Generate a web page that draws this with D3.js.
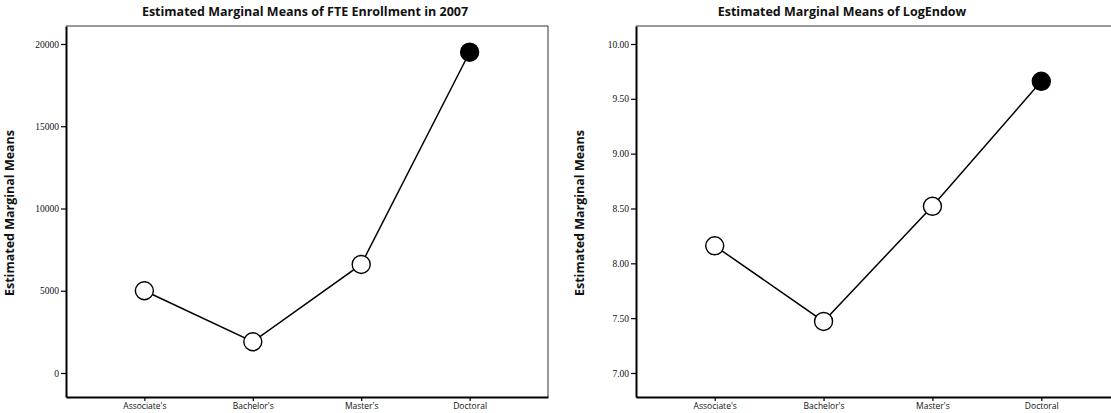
<!DOCTYPE html>
<html>
<head>
<meta charset="utf-8">
<script src="https://cdn.jsdelivr.net/npm/d3@7"></script>
<style>
  body { margin: 0; background: #fff; }
  text { font-family: "Open Sans", sans-serif; fill: #111; }
</style>
</head>
<body>
<svg id="chart" width="1111" height="413"></svg>
<script>
// categories on the x axis (same for both plots)
const degrees = ["Associate's", "Bachelor's", "Master's", "Doctoral"];

// left plot: FTE enrollment
const fteMeans = [5000, 1900, 6600, 19500];
const fteTicks = [0, 5000, 10000, 15000, 20000];

// right plot: LogEndow
const endowMeans = [8.16, 7.47, 8.52, 9.66];
const endowTicks = [7.00, 7.50, 8.00, 8.50, 9.00, 9.50, 10.00];

const svg = d3.select("#chart");

function panel(opt) {
  const x = d3.scalePoint()
      .domain(degrees)
      .range([opt.left, opt.right])
      .padding(0.723);
  const y = d3.scaleLinear()
      .domain(opt.domain)
      .range([397, 26]);

  const g = svg.append("g");

  // frame: thin top / right border
  g.append("path")
      .attr("d", `M${opt.left},26H${opt.right}V397`)
      .attr("fill", "none")
      .attr("stroke", "#333")
      .attr("stroke-width", 1);

  // left axis
  const ya = g.append("g")
      .attr("transform", `translate(${opt.left},0)`)
      .call(d3.axisLeft(y).tickValues(opt.ticks).tickSize(5).tickPadding(2).tickFormat(opt.fmt).tickSizeOuter(0));
  ya.select(".domain").attr("stroke-width", 2).attr("stroke", "#000");
  ya.selectAll(".tick line").attr("stroke-width", 1.2);
  ya.selectAll(".tick text")
      .style("font-family", "'Liberation Serif', serif")
      .attr("font-size", 9.5)
      .attr("fill", "#111");

  // bottom axis
  const xa = g.append("g")
      .attr("transform", "translate(0,397)")
      .call(d3.axisBottom(x).tickSize(4).tickPadding(2).tickSizeOuter(0));
  xa.select(".domain").attr("stroke-width", 2).attr("stroke", "#000");
  xa.selectAll(".tick line").attr("stroke-width", 1.2);
  xa.selectAll(".tick text")
      .attr("font-size", 8.5)
      .attr("fill", "#111");

  // title
  g.append("text")
      .attr("x", opt.titleX)
      .attr("y", 16)
      .attr("text-anchor", "middle")
      .attr("font-size", 12.5)
      .attr("font-weight", 700)
      .text(opt.title);

  // y axis label
  g.append("text")
      .attr("transform", `translate(${opt.labelX},213) rotate(-90)`)
      .attr("text-anchor", "middle")
      .attr("font-size", 12.5)
      .attr("font-weight", 700)
      .text("Estimated Marginal Means");

  const pts = degrees.map((d, i) => ({ cat: d, v: opt.values[i] }));

  g.append("path")
      .datum(pts)
      .attr("fill", "none")
      .attr("stroke", "#000")
      .attr("stroke-width", 1.5)
      .attr("d", d3.line().x(d => x(d.cat)).y(d => y(d.v)));

  g.selectAll("circle")
    .data(pts)
    .join("circle")
      .attr("cx", d => x(d.cat))
      .attr("cy", d => y(d.v))
      .attr("r", 9)
      .attr("fill", d => d.cat === "Doctoral" ? "#000" : "#fff")
      .attr("stroke", "#000")
      .attr("stroke-width", 1.4);
}

panel({
  left: 66, right: 548,
  domain: [-1459, 21094],
  ticks: fteTicks,
  fmt: d3.format("d"),
  values: fteMeans,
  title: "Estimated Marginal Means of FTE Enrollment in 2007",
  titleX: 305,
  labelX: 14
});

panel({
  left: 636, right: 1120,
  domain: [6.781, 10.164],
  ticks: endowTicks,
  fmt: d3.format(".2f"),
  values: endowMeans,
  title: "Estimated Marginal Means of LogEndow",
  titleX: 842,
  labelX: 584
});
</script>
</body>
</html>
